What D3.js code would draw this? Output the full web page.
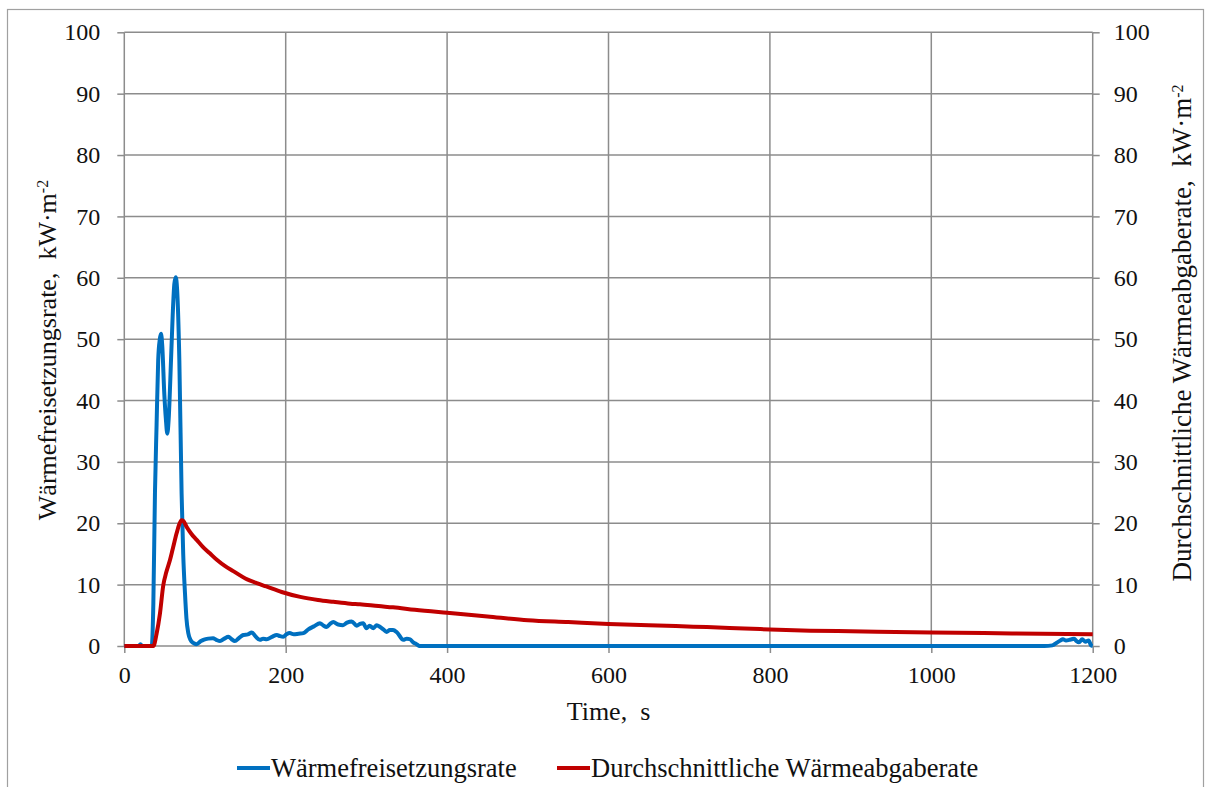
<!DOCTYPE html>
<html>
<head>
<meta charset="utf-8">
<script src="https://cdn.jsdelivr.net/npm/d3@7"></script>
<style>
  body { margin: 0; background: #fff; }
  svg { display: block; font-family: "Liberation Serif", "Times New Roman", serif; }
</style>
</head>
<body>
<svg id="chart" width="1206" height="787"></svg>
<script>
// x axis ticks / y axis ticks
var xTicks = [0, 200, 400, 600, 800, 1000, 1200];
var yTicks = [0, 10, 20, 30, 40, 50, 60, 70, 80, 90, 100];

// Wärmefreisetzungsrate (blue)
var hrrTime = [
  0, 18, 20, 22, 32, 34, 36, 38, 40, 42,
  44, 45.5, 47, 49.6, 51.5, 53.3, 55, 57.9, 60, 62,
  63.7, 65.5, 68.2, 71, 73, 75.2, 77, 79.3, 82, 85.5,
  89, 95, 98, 104, 110, 114, 118.6, 124, 129, 133,
  137, 142, 147.5, 153, 158, 163, 168, 172, 176.5, 183,
  189, 193, 197, 201, 205, 210, 216, 222, 228, 235,
  242.5, 246, 250.8, 255, 259, 265, 271, 276, 281.8, 288,
  292, 296, 300, 304, 308.6, 312.8, 317, 321, 325, 329,
  333, 338, 345.7, 350, 354, 358, 362, 366, 1140, 1150,
  1155, 1160, 1163, 1167, 1171, 1174, 1177, 1180, 1183, 1187,
  1191, 1195, 1198, 1200];
var hrrValue = [
  0, 0, 0.3, 0, 0, 0, 7, 25, 36, 46.6,
  50, 50.9, 49, 41, 37, 34.6, 37, 46.6, 54, 59,
  60.1, 58, 46.6, 24.9, 15, 8.6, 4.5, 2.1, 1.0, 0.5,
  0.3, 0.8, 1.0, 1.2, 1.25, 1.0, 0.8, 1.2, 1.5, 1.1,
  0.8, 1.3, 1.8, 1.9, 2.2, 1.5, 1.0, 1.2, 1.1, 1.5,
  1.8, 1.6, 1.5, 1.9, 2.1, 1.9, 2.0, 2.1, 2.7, 3.2,
  3.7, 3.4, 3.1, 3.6, 3.9, 3.5, 3.4, 3.8, 4.0, 3.3,
  3.6, 3.7, 2.9, 3.3, 2.9, 3.4, 3.1, 2.7, 2.3, 2.6,
  2.6, 2.2, 1.0, 1.2, 1.1, 0.6, 0.3, 0, 0, 0.1,
  0.5, 0.9, 1.1, 0.9, 1.0, 1.1, 1.2, 0.8, 0.6, 1.1,
  0.7, 0.9, 0.1, 0];

// Durchschnittliche Wärmeabgaberate (red)
var marheTime = [
  0, 36, 40, 44.2, 48.3, 52, 56.6, 60, 64.9, 68,
  71, 73, 77.3, 83, 89.7, 97, 106, 115, 125, 135,
  150, 165, 176, 195, 218, 240, 259, 280, 292, 315,
  333, 360, 400, 450, 500, 550, 600, 650, 705, 750,
  788, 850, 900, 1000, 1100, 1200];
var marheValue = [
  0, 0, 2, 5.3, 9.9, 12, 14, 15.8, 18.4, 19.8,
  20.5, 20.4, 19.4, 18.3, 17.3, 16.2, 15.1, 14.0, 13.0, 12.2,
  11.0, 10.2, 9.7, 8.8, 8.0, 7.5, 7.2, 6.9, 6.8, 6.5,
  6.3, 5.9, 5.4, 4.8, 4.2, 3.9, 3.6, 3.4, 3.15, 2.95,
  2.75, 2.5, 2.4, 2.2, 2.05, 1.9];

var legendNames = ["Wärmefreisetzungsrate", "Durchschnittliche Wärmeabgaberate"];
var colors = ["#0070C0", "#C00000"];

var margin = {left: 124.3, right: 1092.7, top: 32.3, bottom: 646};
var gridColor = "#8c8c8c";

var svg = d3.select("#chart");

// outer frame
svg.append("rect")
    .attr("x", 7.5).attr("y", 9.5)
    .attr("width", 1196).attr("height", 800)
    .attr("fill", "none").attr("stroke", "#a0a0a0").attr("stroke-width", 1.2);

var x = d3.scaleLinear().domain([0, 1200]).range([margin.left, margin.right]);
var y = d3.scaleLinear().domain([0, 100]).range([margin.bottom, margin.top]);

// grid
var grid = svg.append("g").attr("stroke", gridColor).attr("stroke-width", 1.5);
grid.selectAll(".hg").data(yTicks).enter().append("line")
    .attr("x1", margin.left).attr("x2", margin.right)
    .attr("y1", d => y(d)).attr("y2", d => y(d));
grid.selectAll(".vg").data(xTicks).enter().append("line")
    .attr("x1", d => x(d)).attr("x2", d => x(d))
    .attr("y1", margin.top).attr("y2", margin.bottom);

// axes
function styleAxis(g){
    g.attr("font-family", null).attr("font-size", null);
    g.select(".domain").remove();
    g.selectAll(".tick line").attr("stroke", gridColor).attr("stroke-width", 1.5);
    g.selectAll(".tick text").attr("fill", "#111").style("font-size", "24px");
}
svg.append("g").attr("transform", "translate(0," + margin.bottom + ")")
    .call(d3.axisBottom(x).tickValues(xTicks).tickSize(7).tickPadding(13).tickFormat(d3.format("d")))
    .call(styleAxis);
svg.append("g").attr("transform", "translate(" + margin.left + ",0)")
    .call(d3.axisLeft(y).tickValues(yTicks).tickSize(7).tickPadding(17).tickFormat(d3.format("d")))
    .call(styleAxis);
svg.append("g").attr("transform", "translate(" + margin.right + ",0)")
    .call(d3.axisRight(y).tickValues(yTicks).tickSize(7).tickPadding(14).tickFormat(d3.format("d")))
    .call(styleAxis);

// lines
var line = d3.line().x(d => x(d[0])).y(d => y(d[1])).curve(d3.curveMonotoneX);
var series = [d3.zip(hrrTime, hrrValue), d3.zip(marheTime, marheValue)];
svg.selectAll(".series").data(series).enter().append("path")
    .attr("d", line)
    .attr("fill", "none")
    .attr("stroke", (d, i) => colors[i])
    .attr("stroke-width", 4)
    .attr("stroke-linejoin", "round");

// axis titles
svg.append("text")
    .attr("x", (margin.left + margin.right) / 2).attr("y", 720)
    .attr("text-anchor", "middle").style("font-size", "26px").attr("fill", "#111")
    .text("Time,\u00a0\u00a0s");

function yTitle(label, tx, ty, size){
    var t = svg.append("text")
        .attr("transform", "translate(" + tx + "," + ty + ") rotate(-90)")
        .attr("text-anchor", "middle").style("font-size", size + "px").attr("fill", "#111");
    t.append("tspan").text(label + ",\u00a0\u00a0kW\u00b7m");
    t.append("tspan").attr("baseline-shift", "super").style("font-size", "16px").text("-2");
}
yTitle("Wärmefreisetzungsrate", 56, 350, 26);
yTitle("Durchschnittliche Wärmeabgaberate", 1191, 333, 27);

// legend
var legend = svg.append("g");
var legX = [237, 557];
legendNames.forEach(function(name, i){
    legend.append("line")
        .attr("x1", legX[i]).attr("x2", legX[i] + 33)
        .attr("y1", 768).attr("y2", 768)
        .attr("stroke", colors[i]).attr("stroke-width", 4);
    legend.append("text")
        .attr("x", legX[i] + 34).attr("y", 777)
        .style("font-size", "26.5px").attr("fill", "#111")
        .text(name);
});
</script>
</body>
</html>
